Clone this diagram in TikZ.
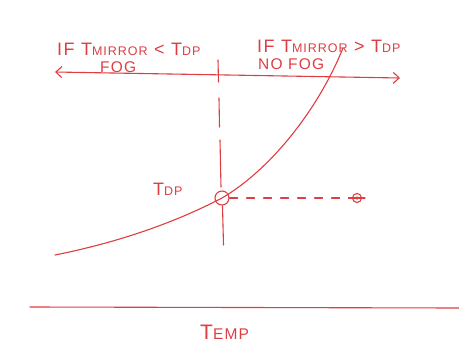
\documentclass[tikz,border=0pt]{standalone}
\usepackage{fontspec}
\setmainfont{Liberation Sans}[LetterSpace=8]
\usetikzlibrary{arrows.meta}
\definecolor{pen}{RGB}{222,62,66}
\tikzset{
  ink/.style={draw=pen, line width=1.1pt, line cap=round},
  lbl/.style={text=pen, inner sep=0pt, font=\fontsize{18}{18}\selectfont}
}
\newcommand{\smc}[1]{{\fontsize{12.5}{12.5}\selectfont #1}}
\newcommand{\mdc}[1]{{\fontsize{15.5}{15.5}\selectfont #1}}
\begin{document}
\begin{tikzpicture}[x=1pt,y=-1pt]
\useasboundingbox (0,0) rectangle (459,346);
\fill[white] (0,0) rectangle (459,346);
% coordinates
\coordinate (la) at (55,72);
\coordinate (ra) at (400,78);
\coordinate (vt1) at (218,60);
\coordinate (vb1) at (218.5,82);
\coordinate (vt2) at (219,98);
\coordinate (vb2) at (219.5,127);
\coordinate (vt3) at (220,140);
\coordinate (vb3) at (221,187);
\coordinate (vt4) at (222.5,206);
\coordinate (vb4) at (223.5,245);
\coordinate (cs) at (55,255);
\coordinate (ce) at (343,48);
\coordinate (ax1) at (30,307);
\coordinate (ax2) at (459,308);
% circles
\node[ink, circle, minimum size=14pt, inner sep=0pt] (dp) at (222,198) {};
\node[ink, circle, minimum size=9pt, inner sep=0pt] (pt) at (357,198) {};
% arrow
\draw[ink, {Straight Barb[length=6pt,width=11pt]}-{Straight Barb[length=6pt,width=11pt]}] (la) -- (ra);
% vertical dashed line
\draw[ink] (vt1) -- (vb1);
\draw[ink] (vt2) -- (vb2);
\draw[ink] (vt3) -- (vb3);
\draw[ink] (vt4) -- (vb4);
% curve
\draw[ink] (cs) .. controls (140,238) and (195,212) .. (dp.center) .. controls (270,170) and (318,110) .. (ce);
% dashed horizontal
\draw[ink, dash pattern=on 8pt off 9pt] (dp.east) -- (pt.west);
\draw[ink] ([yshift=-4pt]pt.north) -- ([yshift=4pt]pt.south);
\draw[ink] ([xshift=-3pt]pt.west) -- ([xshift=3pt]pt.east);
% axis
\draw[ink] (ax1) -- (ax2);
% texts
\node[lbl, anchor=base west] (t1) at (57,55) {IF T\smc{MIRROR} < T\smc{DP}};
\node[lbl, anchor=base west] (t2) at (100,72) {\mdc{FOG}};
\node[lbl, anchor=base west] (t3) at (257,52) {IF T\smc{MIRROR} > T\smc{DP}};
\node[lbl, anchor=base west] (t4) at (258,69) {\mdc{NO FOG}};
\node[lbl, anchor=base west] (t5) at (153,195) {T\smc{DP}};
\node[lbl, anchor=base west, font=\fontsize{21}{21}\selectfont] (t6) at (200,339) {T\mdc{EMP}};
\end{tikzpicture}
\end{document}
